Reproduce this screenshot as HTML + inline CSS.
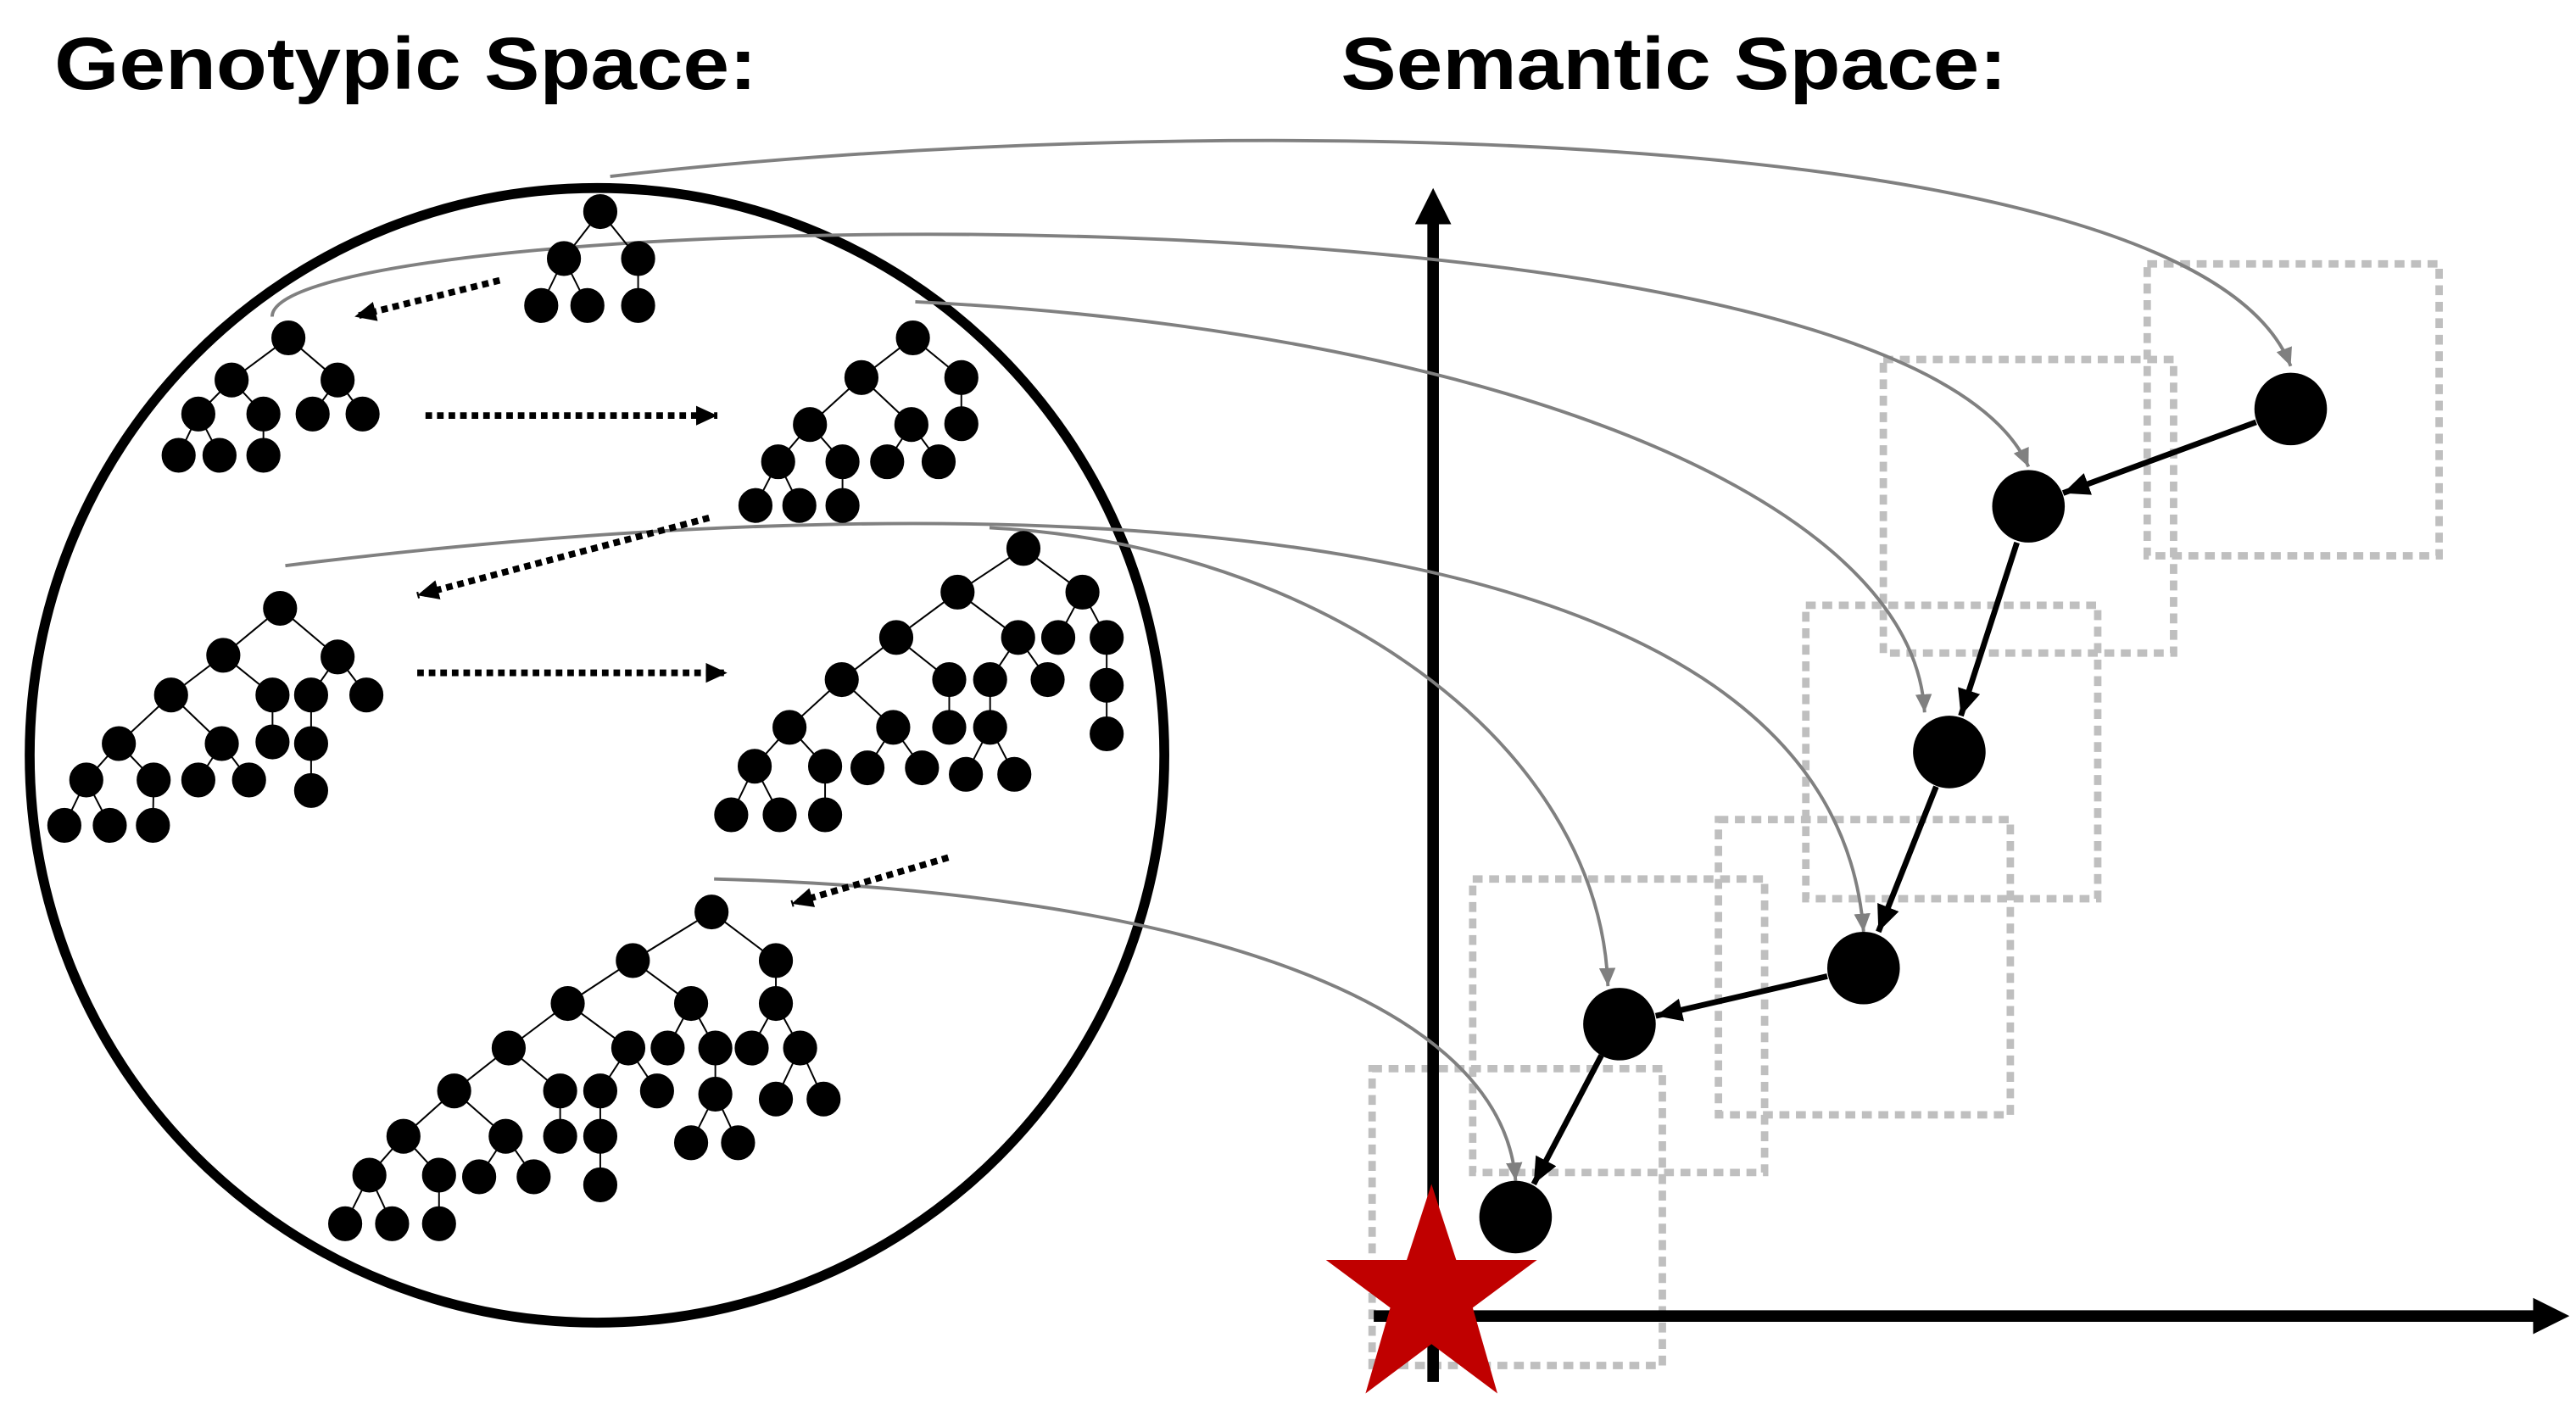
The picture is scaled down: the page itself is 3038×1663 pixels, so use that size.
<!DOCTYPE html>
<html><head><meta charset="utf-8"><style>html,body{margin:0;padding:0;background:#fff}svg{display:block}</style></head>
<body>
<svg width="3038" height="1663" viewBox="0 0 1562 855" preserveAspectRatio="none" xmlns="http://www.w3.org/2000/svg">
<defs>
<marker id="ab" markerUnits="userSpaceOnUse" markerWidth="20" markerHeight="16" refX="16" refY="7" orient="auto"><path d="M0,0 L16,7 L0,14 z" fill="#000"/></marker>
<marker id="ag" markerUnits="userSpaceOnUse" markerWidth="14" markerHeight="12" refX="11" refY="5" orient="auto"><path d="M0,0 L11,5 L0,10 z" fill="#808080"/></marker>
<marker id="ad" markerUnits="userSpaceOnUse" markerWidth="16" markerHeight="14" refX="13" refY="6" orient="auto"><path d="M0,0 L13,6 L0,12 z" fill="#000"/></marker>
</defs>
<g font-family="Liberation Sans, Arial, sans-serif" font-weight="bold" font-size="45" fill="#000">
<text x="33" y="54" textLength="426" lengthAdjust="spacingAndGlyphs">Genotypic Space:</text>
<text x="813" y="54" textLength="404" lengthAdjust="spacingAndGlyphs">Semantic Space:</text>
</g>
<g fill="none" stroke="#bfbfbf" stroke-width="4.5" stroke-dasharray="6 4">
<rect x="1302" y="160" width="177" height="177"/>
<rect x="1142" y="218" width="176" height="178"/>
<rect x="1095" y="367" width="177" height="178"/>
<rect x="1042" y="497" width="177" height="179"/>
<rect x="893" y="533" width="177" height="178"/>
<rect x="832" y="648" width="176" height="180"/>
</g>
<line x1="869" y1="838" x2="869" y2="135" stroke="#000" stroke-width="7"/>
<path d="M858,136 L869,114 L880,136 z" fill="#000"/>
<line x1="833" y1="798" x2="1538" y2="798" stroke="#000" stroke-width="7"/>
<path d="M1536,787 L1558,798 L1536,809 z" fill="#000"/>
<ellipse cx="362" cy="458" rx="344" ry="344" fill="none" stroke="#000" stroke-width="6"/>
<g fill="none" stroke="#808080" stroke-width="2" marker-end="url(#ag)">
<path d="M370,107 C700,68 1330,68 1389,222"/>
<path d="M165,192 C165,125 1150,100 1230,283"/>
<path d="M555,183 C900,200 1160,300 1167,432"/>
<path d="M173,343 C600,290 1110,300 1130,565"/>
<path d="M600,320 C800,330 970,450 975,598"/>
<path d="M433,533 C700,540 910,600 919,716"/>
</g>
<g fill="#000">
<circle cx="1389" cy="248" r="22"/><circle cx="1230" cy="307" r="22"/><circle cx="1182" cy="456" r="22"/>
<circle cx="1130" cy="587" r="22"/><circle cx="982" cy="621" r="22"/><circle cx="919" cy="738" r="22"/>
</g>
<g stroke="#000" stroke-width="3.5" marker-end="url(#ab)">
<line x1="1368" y1="256" x2="1251" y2="299"/>
<line x1="1223" y1="329" x2="1189" y2="434"/>
<line x1="1174" y1="477" x2="1139" y2="565"/>
<line x1="1108" y1="592" x2="1004" y2="616"/>
<line x1="971" y1="640" x2="930" y2="718"/>
</g>
<path d="M868,718 L883,764 L932,764 L893,793 L908,845 L868,815 L828,845 L843,793 L804,764 L853,764 z" fill="#c00000"/>
<g stroke="#000" stroke-width="4" stroke-dasharray="4 3" marker-end="url(#ad)" fill="none">
<line x1="303" y1="170" x2="215" y2="192"/>
<line x1="258" y1="252" x2="435" y2="252"/>
<line x1="430" y1="314" x2="253" y2="361"/>
<line x1="253" y1="408" x2="441" y2="408"/>
<line x1="575" y1="520" x2="480" y2="548"/>
</g>
<g transform="matrix(0.459,0,0,0.491,0,79.2)">
<g stroke="#000" stroke-width="2.2" fill="none">
<path d="M793,100L745,158M793,100L843,158M745,158L715,216M745,158L776,216M843,158L843,216"/>
<path d="M381,256L306,308M381,256L446,308M306,308L262,350M306,308L348,350M446,308L413,350M446,308L479,350M262,350L236,401M262,350L290,401M348,350L348,401"/>
<path d="M1206,256L1138,305M1206,256L1270,305M1138,305L1070,363M1138,305L1204,363M1270,305L1270,362M1070,363L1028,409M1070,363L1113,409M1204,363L1172,409M1204,363L1240,409M1028,409L998,463M1028,409L1056,463M1113,409L1113,463"/>
<path d="M370,590L295,648M370,590L446,650M295,648L226,697M295,648L360,697M446,650L411,697M446,650L484,697M226,697L157,757M226,697L293,757M360,697L360,755M411,697L411,757M411,757L411,815M157,757L114,802M157,757L203,802M293,757L262,802M293,757L329,802M114,802L85,858M114,802L145,858M203,802L202,858"/>
<path d="M1352,516L1265,570M1352,516L1430,570M1265,570L1184,626M1265,570L1345,626M1430,570L1398,626M1430,570L1462,626M1462,626L1462,685M1462,685L1462,745M1184,626L1112,678M1184,626L1254,678M1345,626L1308,678M1345,626L1384,678M1254,678L1254,737M1308,678L1308,737M1308,737L1276,795M1308,737L1340,795M1112,678L1043,737M1112,678L1180,737M1043,737L997,785M1043,737L1090,785M1180,737L1146,787M1180,737L1218,787M997,785L966,845M997,785L1030,845M1090,785L1090,845"/>
<path d="M940,965L836,1025M940,965L1025,1025M836,1025L750,1078M836,1025L913,1078M1025,1025L1025,1078M750,1078L672,1133M750,1078L830,1133M913,1078L882,1133M913,1078L945,1133M1025,1078L993,1133M1025,1078L1057,1133M672,1133L600,1186M672,1133L740,1186M830,1133L793,1186M830,1133L868,1186M945,1133L945,1190M1057,1133L1025,1196M1057,1133L1088,1196M600,1186L533,1242M600,1186L668,1242M740,1186L740,1242M793,1186L793,1242M945,1190L913,1250M945,1190L975,1250M533,1242L488,1290M533,1242L580,1290M668,1242L633,1292M668,1242L705,1292M793,1242L793,1302M488,1290L456,1350M488,1290L518,1350M580,1290L580,1350"/>
</g>
<g fill="#000" stroke="#000" stroke-width="3">
<ellipse cx="793" cy="100" rx="21" ry="20"/><ellipse cx="745" cy="158" rx="21" ry="20"/><ellipse cx="843" cy="158" rx="21" ry="20"/><ellipse cx="715" cy="216" rx="21" ry="20"/><ellipse cx="776" cy="216" rx="21" ry="20"/><ellipse cx="843" cy="216" rx="21" ry="20"/>
<ellipse cx="381" cy="256" rx="21" ry="20"/><ellipse cx="306" cy="308" rx="21" ry="20"/><ellipse cx="446" cy="308" rx="21" ry="20"/><ellipse cx="262" cy="350" rx="21" ry="20"/><ellipse cx="348" cy="350" rx="21" ry="20"/><ellipse cx="413" cy="350" rx="21" ry="20"/><ellipse cx="479" cy="350" rx="21" ry="20"/><ellipse cx="236" cy="401" rx="21" ry="20"/><ellipse cx="290" cy="401" rx="21" ry="20"/><ellipse cx="348" cy="401" rx="21" ry="20"/>
<ellipse cx="1206" cy="256" rx="21" ry="20"/><ellipse cx="1138" cy="305" rx="21" ry="20"/><ellipse cx="1270" cy="305" rx="21" ry="20"/><ellipse cx="1070" cy="363" rx="21" ry="20"/><ellipse cx="1204" cy="363" rx="21" ry="20"/><ellipse cx="1270" cy="362" rx="21" ry="20"/><ellipse cx="1028" cy="409" rx="21" ry="20"/><ellipse cx="1113" cy="409" rx="21" ry="20"/><ellipse cx="1172" cy="409" rx="21" ry="20"/><ellipse cx="1240" cy="409" rx="21" ry="20"/><ellipse cx="998" cy="463" rx="21" ry="20"/><ellipse cx="1056" cy="463" rx="21" ry="20"/><ellipse cx="1113" cy="463" rx="21" ry="20"/>
<ellipse cx="370" cy="590" rx="21" ry="20"/><ellipse cx="295" cy="648" rx="21" ry="20"/><ellipse cx="446" cy="650" rx="21" ry="20"/><ellipse cx="226" cy="697" rx="21" ry="20"/><ellipse cx="360" cy="697" rx="21" ry="20"/><ellipse cx="411" cy="697" rx="21" ry="20"/><ellipse cx="484" cy="697" rx="21" ry="20"/><ellipse cx="157" cy="757" rx="21" ry="20"/><ellipse cx="293" cy="757" rx="21" ry="20"/><ellipse cx="360" cy="755" rx="21" ry="20"/><ellipse cx="411" cy="757" rx="21" ry="20"/><ellipse cx="411" cy="815" rx="21" ry="20"/><ellipse cx="114" cy="802" rx="21" ry="20"/><ellipse cx="203" cy="802" rx="21" ry="20"/><ellipse cx="262" cy="802" rx="21" ry="20"/><ellipse cx="329" cy="802" rx="21" ry="20"/><ellipse cx="85" cy="858" rx="21" ry="20"/><ellipse cx="145" cy="858" rx="21" ry="20"/><ellipse cx="202" cy="858" rx="21" ry="20"/>
<ellipse cx="1352" cy="516" rx="21" ry="20"/><ellipse cx="1265" cy="570" rx="21" ry="20"/><ellipse cx="1430" cy="570" rx="21" ry="20"/><ellipse cx="1184" cy="626" rx="21" ry="20"/><ellipse cx="1345" cy="626" rx="21" ry="20"/><ellipse cx="1398" cy="626" rx="21" ry="20"/><ellipse cx="1462" cy="626" rx="21" ry="20"/><ellipse cx="1462" cy="685" rx="21" ry="20"/><ellipse cx="1462" cy="745" rx="21" ry="20"/><ellipse cx="1112" cy="678" rx="21" ry="20"/><ellipse cx="1254" cy="678" rx="21" ry="20"/><ellipse cx="1308" cy="678" rx="21" ry="20"/><ellipse cx="1384" cy="678" rx="21" ry="20"/><ellipse cx="1254" cy="737" rx="21" ry="20"/><ellipse cx="1308" cy="737" rx="21" ry="20"/><ellipse cx="1276" cy="795" rx="21" ry="20"/><ellipse cx="1340" cy="795" rx="21" ry="20"/><ellipse cx="1043" cy="737" rx="21" ry="20"/><ellipse cx="1180" cy="737" rx="21" ry="20"/><ellipse cx="997" cy="785" rx="21" ry="20"/><ellipse cx="1090" cy="785" rx="21" ry="20"/><ellipse cx="1146" cy="787" rx="21" ry="20"/><ellipse cx="1218" cy="787" rx="21" ry="20"/><ellipse cx="966" cy="845" rx="21" ry="20"/><ellipse cx="1030" cy="845" rx="21" ry="20"/><ellipse cx="1090" cy="845" rx="21" ry="20"/>
<ellipse cx="940" cy="965" rx="21" ry="20"/><ellipse cx="836" cy="1025" rx="21" ry="20"/><ellipse cx="1025" cy="1025" rx="21" ry="20"/><ellipse cx="750" cy="1078" rx="21" ry="20"/><ellipse cx="913" cy="1078" rx="21" ry="20"/><ellipse cx="1025" cy="1078" rx="21" ry="20"/><ellipse cx="672" cy="1133" rx="21" ry="20"/><ellipse cx="830" cy="1133" rx="21" ry="20"/><ellipse cx="882" cy="1133" rx="21" ry="20"/><ellipse cx="945" cy="1133" rx="21" ry="20"/><ellipse cx="993" cy="1133" rx="21" ry="20"/><ellipse cx="1057" cy="1133" rx="21" ry="20"/><ellipse cx="600" cy="1186" rx="21" ry="20"/><ellipse cx="740" cy="1186" rx="21" ry="20"/><ellipse cx="793" cy="1186" rx="21" ry="20"/><ellipse cx="868" cy="1186" rx="21" ry="20"/><ellipse cx="945" cy="1190" rx="21" ry="20"/><ellipse cx="1025" cy="1196" rx="21" ry="20"/><ellipse cx="1088" cy="1196" rx="21" ry="20"/><ellipse cx="533" cy="1242" rx="21" ry="20"/><ellipse cx="668" cy="1242" rx="21" ry="20"/><ellipse cx="740" cy="1242" rx="21" ry="20"/><ellipse cx="793" cy="1242" rx="21" ry="20"/><ellipse cx="913" cy="1250" rx="21" ry="20"/><ellipse cx="975" cy="1250" rx="21" ry="20"/><ellipse cx="488" cy="1290" rx="21" ry="20"/><ellipse cx="580" cy="1290" rx="21" ry="20"/><ellipse cx="633" cy="1292" rx="21" ry="20"/><ellipse cx="705" cy="1292" rx="21" ry="20"/><ellipse cx="793" cy="1302" rx="21" ry="20"/><ellipse cx="456" cy="1350" rx="21" ry="20"/><ellipse cx="518" cy="1350" rx="21" ry="20"/><ellipse cx="580" cy="1350" rx="21" ry="20"/>
</g>
</g>
</svg>
</body></html>
